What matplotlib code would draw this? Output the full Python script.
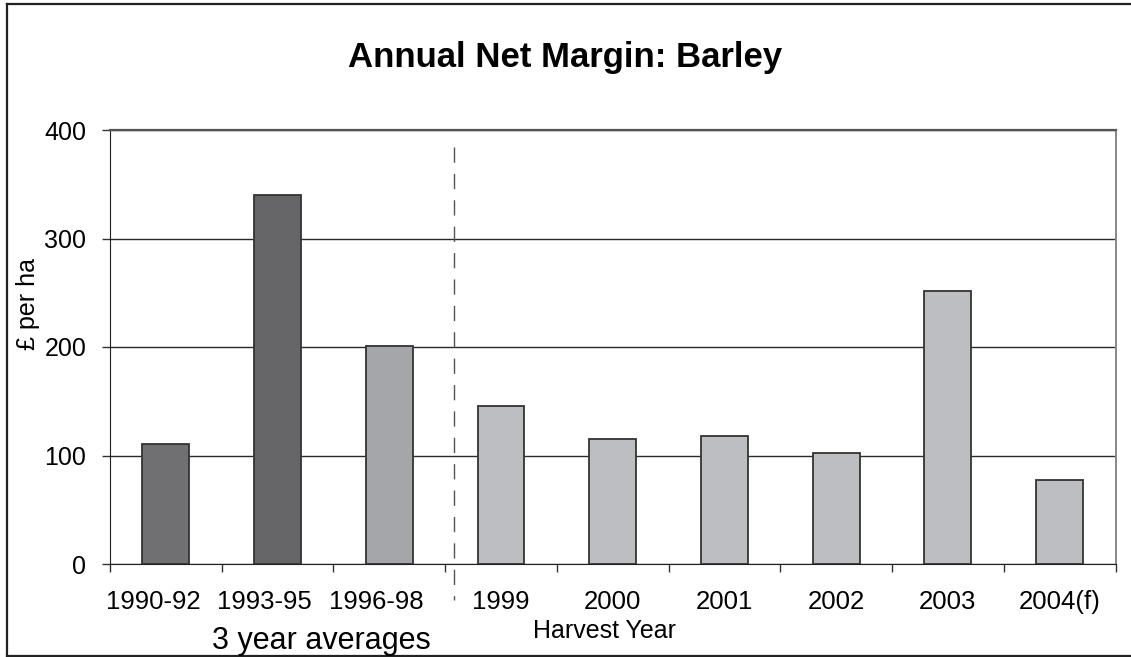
#!/usr/bin/env python3
"""Annual net margin for barley: 3-year averages followed by single harvest years."""

from __future__ import annotations

import matplotlib

matplotlib.use("Agg")
import matplotlib.pyplot as plt
from matplotlib.lines import Line2D
from matplotlib.transforms import ScaledTranslation

# data (£ per ha)
CATEGORIES = ["1990-92", "1993-95", "1996-98", "1999", "2000", "2001", "2002", "2003", "2004(f)"]
NET_MARGIN = [111, 340, 201, 146, 115, 118, 102, 252, 77]
Y_TICKS = [0, 100, 200, 300, 400]
AVERAGE_PERIODS = 3  # first three categories are 3-year averages

BAR_COLOURS = ["#707073", "#666668", "#a5a6a9"] + ["#bdbec1"] * 6

WIDTH_PX, HEIGHT_PX = 1131, 657
DPI = 100


def fx(px: float) -> float:
    return px / WIDTH_PX


def fy(px: float) -> float:
    return 1 - px / HEIGHT_PX


def main() -> None:
    plt.rcParams["font.family"] = ["Liberation Sans", "DejaVu Sans"]
    fig = plt.figure(figsize=(WIDTH_PX / DPI, HEIGHT_PX / DPI), dpi=DPI)
    ax = fig.add_axes([fx(110), fy(564), fx(1115.5) - fx(110), fy(130) - fy(564)])

    positions = list(range(len(CATEGORIES)))
    ax.bar(
        positions,
        NET_MARGIN,
        width=0.42,
        color=BAR_COLOURS,
        edgecolor="#333333",
        linewidth=1.3,
        zorder=3,
    )

    ax.set_xlim(-0.5, len(CATEGORIES) - 0.5)
    ax.set_ylim(Y_TICKS[0], Y_TICKS[-1])
    ax.set_yticks(Y_TICKS)
    ax.tick_params(axis="y", length=6, width=1, color="#333333", pad=11, labelsize=18)

    ax.set_xticks(positions)
    ax.set_xticklabels(CATEGORIES)
    ax.set_xticks([p - 0.5 for p in positions] + [len(CATEGORIES) - 0.5], minor=True)
    ax.tick_params(axis="x", which="major", length=0, pad=19, labelsize=18.5)
    ax.tick_params(axis="x", which="minor", length=6, width=1, color="#333333")
    shift = ScaledTranslation(-13 / DPI, 0, fig.dpi_scale_trans)
    for label in ax.get_xticklabels()[:AVERAGE_PERIODS]:
        label.set_transform(label.get_transform() + shift)

    ax.grid(axis="y", color="#2a2a2a", linewidth=1)
    ax.set_axisbelow(True)
    ax.spines["left"].set_color("#222222")
    ax.spines["bottom"].set_color("#222222")
    ax.spines["top"].set_color("#555555")
    ax.spines["top"].set_linewidth(1.6)
    ax.spines["right"].set_color("#888888")
    ax.spines["right"].set_linewidth(1.4)

    # dashed divider between the averages and the single harvest years
    divider_x = AVERAGE_PERIODS - 0.42
    ax.plot(
        [divider_x, divider_x],
        [384, -33],
        color="#555555",
        linewidth=1,
        dashes=(11, 8),
        clip_on=False,
        zorder=4,
    )

    fig.text(fx(565), fy(67), "Annual Net Margin: Barley", ha="center", va="baseline",
             fontsize=25, fontweight="bold")
    fig.text(fx(27.5), fy(304), "£ per ha", rotation=90, ha="center", va="center", fontsize=18)
    fig.text(fx(321.7), fy(649), "3 year averages", ha="center", va="baseline", fontsize=22)
    fig.text(fx(604.7), fy(638.3), "Harvest Year", ha="center", va="baseline", fontsize=18)

    # outer chart-area frame (right edge runs off the picture)
    frame = dict(transform=fig.transFigure, color="#222222", linewidth=1.6)
    fig.add_artist(Line2D([fx(7), fx(7)], [fy(4), fy(656)], **frame))
    fig.add_artist(Line2D([fx(7), 1.0], [fy(4), fy(4)], **frame))
    fig.add_artist(Line2D([fx(7), 1.0], [fy(656), fy(656)], **frame))

    fig.savefig("out.png", dpi=DPI)
    plt.close(fig)


if __name__ == "__main__":
    main()
